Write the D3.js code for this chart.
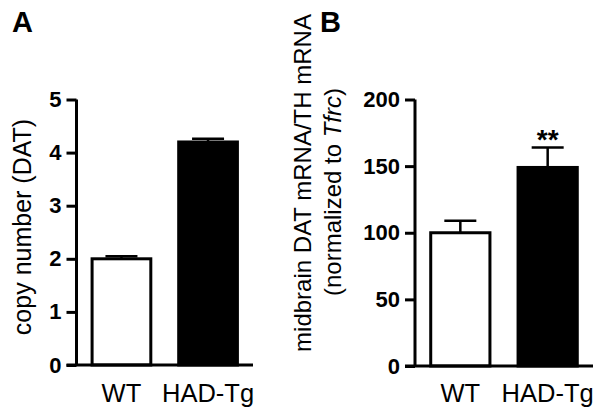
<!DOCTYPE html>
<html><head><meta charset="utf-8">
<script src="https://cdn.jsdelivr.net/npm/d3@7"></script>
<style>body{margin:0;background:#fff}svg{display:block}text{font-family:"Liberation Sans",Arial,sans-serif}</style>
</head><body><svg id="c" width="604" height="415"></svg>
<script>
const categories = ["WT", "HAD-Tg"];
const copyNumber = [2.0, 4.2];
const copyNumberErr = [0.05, 0.06];
const mrnaRatio = [100, 149];
const mrnaRatioErr = [9, 15];
const ticksA = [0, 1, 2, 3, 4, 5];
const ticksB = [0, 50, 100, 150, 200];
const fills = ["#fff", "#000"];
const stars = ["", "**"];

const svg = d3.select("#c");

function panel(o){
  const g = svg.append("g");
  const y = d3.scaleLinear().domain(o.domain).range([o.y0, o.y1]);
  const x = d3.scaleBand().domain(categories).range([o.ax, o.xEnd]).paddingInner(0.322).paddingOuter(0.18);
  // bars
  g.selectAll("rect.bar").data(categories).join("rect")
    .attr("x", d => x(d)).attr("width", x.bandwidth())
    .attr("y", (d,i) => y(o.values[i])).attr("height", (d,i) => y(0) - y(o.values[i]))
    .attr("fill", (d,i) => fills[i]).attr("stroke", "#000").attr("stroke-width", 3);
  // error bars
  categories.forEach((d,i) => {
    const cx = x(d) + x.bandwidth()/2;
    const top = y(o.values[i] + o.errs[i]);
    g.append("line").attr("x1", cx).attr("x2", cx).attr("y1", y(o.values[i])).attr("y2", top)
      .attr("stroke", "#000").attr("stroke-width", 2.5);
    g.append("line").attr("x1", cx-16).attr("x2", cx+16).attr("y1", top).attr("y2", top)
      .attr("stroke", "#000").attr("stroke-width", 2.5);
    if (stars[i] && o.stars) {
      g.append("text").attr("x", cx).attr("y", top + 2).attr("text-anchor", "middle")
        .attr("font-size", 28).attr("font-weight", "bold").text(stars[i]);
    }
  });
  // y axis
  const ya = g.append("g").attr("transform", `translate(${o.ax},0)`)
    .call(d3.axisLeft(y).tickValues(o.ticks).tickFormat(d3.format("d")).tickSize(10).tickPadding(5).tickSizeOuter(0));
  ya.select(".domain").attr("stroke-width", 3).attr("d", `M0,${y(o.domain[1])}V${y(0)}`);
  ya.selectAll(".tick line").attr("stroke-width", 3);
  ya.selectAll(".tick text").attr("font-size", 22).attr("font-weight", "bold")
    .attr("font-family", '"Liberation Sans",Arial,sans-serif').attr("fill", "#000");
  // baseline
  g.append("line").attr("x1", o.ax - 10).attr("x2", o.xEnd).attr("y1", y(0)).attr("y2", y(0))
    .attr("stroke", "#000").attr("stroke-width", 3);
  // x labels
  g.selectAll("text.xl").data(categories).join("text").attr("class", "xl")
    .attr("x", d => x(d) + x.bandwidth()/2).attr("y", 402).attr("text-anchor", "middle")
    .attr("font-size", 25.5).text(d => d);
  // panel letter
  g.append("text").attr("x", o.lx).attr("y", 32).attr("font-size", 29).attr("font-weight", "bold").text(o.letter);
  return {g, y};
}

const A = panel({domain:[0,5], y0:365, y1:99.5, ax:76.5, xEnd:253, values:copyNumber, errs:copyNumberErr, ticks:ticksA, letter:"A", lx:12, stars:false});
A.g.append("text").attr("transform", "translate(31,227) rotate(-90)").attr("text-anchor", "middle")
  .attr("font-size", 25).text("copy number (DAT)");

const B = panel({domain:[0,200], y0:366, y1:99.5, ax:415, xEnd:593, values:mrnaRatio, errs:mrnaRatioErr, ticks:ticksB, letter:"B", lx:320, stars:true});
B.g.append("text").attr("transform", "translate(311,183) rotate(-90)").attr("text-anchor", "middle")
  .attr("font-size", 24).text("midbrain DAT mRNA/TH mRNA");
const t2 = B.g.append("text").attr("transform", "translate(341,192) rotate(-90)").attr("text-anchor", "middle")
  .attr("font-size", 24);
t2.append("tspan").text("(normalized to ");
t2.append("tspan").attr("font-style", "italic").text("Tfrc");
t2.append("tspan").text(")");
</script></body></html>
